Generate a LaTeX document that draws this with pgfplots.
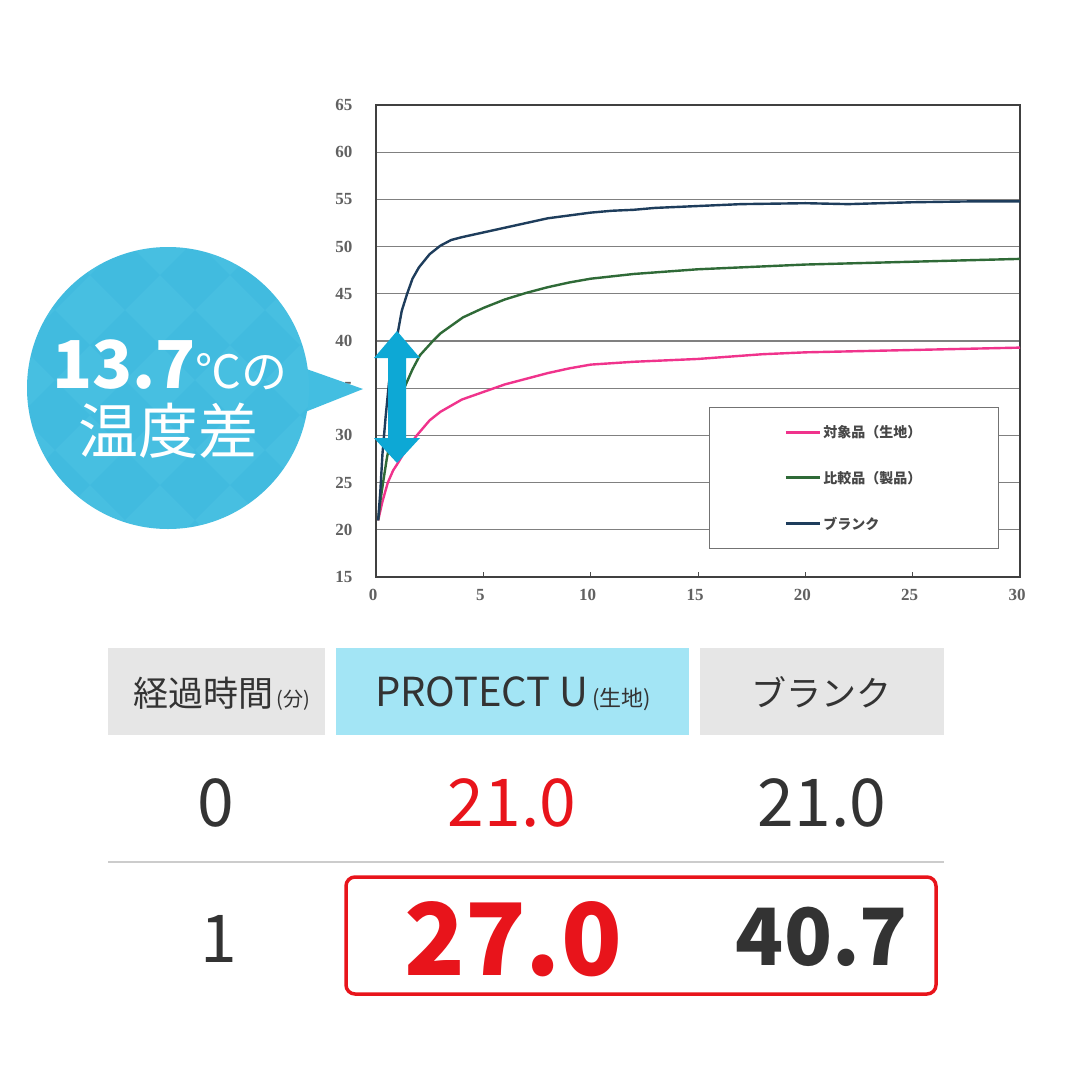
\documentclass[border=0pt]{standalone}
\usepackage{pgfplots}
\pgfplotsset{compat=1.18}
\usepackage{fontspec}
\setmainfont{Noto Sans CJK JP}
\newfontfamily\jp{Noto Sans CJK JP}
\newfontfamily\tickfont{Liberation Serif}
\definecolor{pinkline}{HTML}{F0338C}
\definecolor{greenline}{HTML}{2F6A37}
\definecolor{navyline}{HTML}{1E3D5C}
\definecolor{bubble}{HTML}{43BEE1}
\definecolor{arrowblue}{HTML}{0DA8D5}
\definecolor{cellgray}{HTML}{E6E6E6}
\definecolor{cellblue}{HTML}{A3E5F5}
\definecolor{txt}{HTML}{333333}
\definecolor{hired}{HTML}{E8141B}
\begin{document}
\begin{tikzpicture}[x=1pt,y=-1pt]
\fill[white] (0,0) rectangle (1080,1080);
\begin{axis}[
  at={(376pt,-577pt)}, anchor=south west,
  scale only axis, width=644pt, height=472pt,
  xmin=0, xmax=30, ymin=15, ymax=65,
  xtick={0,5,...,30}, ytick={15,20,...,65},
  ymajorgrids, major grid style={draw=black!50, line width=1.3pt},
  axis line style={draw=black!75, line width=1.4pt},
  tick align=inside, xtick pos=bottom, ytick pos=left,
  major tick length=5pt,
  ytick style={draw=none},
  xtick style={draw=black!70, line width=0.8pt},
  tick label style={font=\tickfont\bfseries\fontsize{17}{17}\selectfont, text=black!62},
  /pgf/number format/assume math mode=true,
  yticklabel style={xshift=-20pt},
  xticklabel style={yshift=-9pt, xshift=-3pt},
  legend style={at={(axis description cs:0.517,0.360)}, anchor=north west,
    draw=black!55, line width=1pt, fill=white, inner xsep=75pt, inner ysep=16pt, row sep=28pt,
    font=\jp\bfseries\fontsize{14}{14}\selectfont, text=black!72,
    cells={anchor=west}},
  legend image code/.code={\draw[#1, line width=3pt] (0pt,0pt) -- (34pt,0pt);},
]
\addplot[pinkline, line width=2.4pt] coordinates {
 (0.1,21.0) (0.3,23.0) (0.55,25.0) (0.8,26.3) (1.0,27.0) (1.4,28.5)
 (1.9,30.0) (2.5,31.6) (3.0,32.5) (4.0,33.8) (5.0,34.6) (6.0,35.4)
 (7.0,36.0) (8.0,36.6) (9.0,37.1) (10,37.5) (12,37.8) (15,38.1)
 (18,38.6) (20,38.8) (22,38.9) (25,39.05) (28,39.2) (30,39.3)
};
\addlegendentry{対象品（生地）}
\addplot[greenline, line width=2.4pt] coordinates {
 (0.1,21.0) (0.2,23.0) (0.33,25.0) (0.5,27.5) (0.75,30.5) (1.0,33.0)
 (1.35,35.2) (1.7,37.0) (2.05,38.5) (2.65,40.0) (3.0,40.8) (4.05,42.5)
 (5,43.5) (6,44.4) (7,45.1) (8,45.7) (9,46.2) (10,46.6) (12,47.1)
 (15,47.6) (18,47.9) (20,48.1) (25,48.4) (30,48.7)
};
\addlegendentry{比較品（製品）}
\addplot[navyline, line width=2.4pt] coordinates {
 (0.1,21.0) (0.2,24.0) (0.3,28.0) (0.45,32.0) (0.6,35.5) (0.8,38.5)
 (1.0,40.7) (1.2,43.2) (1.45,45.0) (1.7,46.6) (2.0,47.8) (2.5,49.2)
 (3.0,50.1) (3.5,50.7) (4.0,51.0) (5.0,51.5) (6.0,52.0) (7.0,52.5)
 (8.0,53.0) (9.0,53.3) (10,53.6) (11,53.8) (12,53.9) (13,54.1)
 (15,54.3) (17,54.5) (20,54.6) (22,54.5) (25,54.7) (28,54.8) (30,54.8)
};
\addlegendentry{ブランク}
\end{axis}
% double arrow
\fill[arrowblue] (397,331) -- (420,358) -- (406,358) -- (406,438) -- (420,438)
  -- (397,463) -- (374,438) -- (388,438) -- (388,358) -- (374,358) -- cycle;
% speech bubble with faint diamond facets
\fill[bubble] (298,366) -- (363,389) -- (300,414) -- cycle;
\begin{scope}
  \clip (168,388) circle[radius=141pt];
  \fill[bubble] (0,230) rectangle (340,550);
  \foreach \i in {0,...,5} {
    \foreach \j in {0,...,5} {
      \pgfmathsetmacro{\cx}{20+\i*70}
      \pgfmathsetmacro{\cy}{240+\j*70}
      \fill[white, opacity=0.025] (\cx,\cy-35) -- (\cx+35,\cy) -- (\cx,\cy+35) -- (\cx-35,\cy) -- cycle;
      \fill[black!40!blue, opacity=0.015] (\cx+35,\cy) -- (\cx+70,\cy+35) -- (\cx+35,\cy+70) -- (\cx,\cy+35) -- cycle;
    }
  }
\end{scope}
\node[white, anchor=base, inner sep=0pt] at (170,388)
  {\jp\bfseries\fontsize{66}{66}\selectfont 13.7\mdseries\fontsize{46}{46}\selectfont ℃の};
\node[white, anchor=base, inner sep=0pt] at (168,453)
  {\jp\fontsize{60}{60}\selectfont 温度差};
% table header
\fill[cellgray] (108,648) rectangle (325,735);
\fill[cellblue] (336,648) rectangle (689,735);
\fill[cellgray] (700,648) rectangle (944,735);
\node[txt, anchor=base, inner sep=0pt] at (222,706)
  {\jp\fontsize{35}{35}\selectfont 経過時間\fontsize{20}{20}\selectfont\,(分)};
\node[txt, anchor=base, inner sep=0pt] at (513,706)
  {\jp\fontsize{40}{40}\selectfont PROTECT U\fontsize{22}{22}\selectfont\,(生地)};
\node[txt, anchor=base, inner sep=0pt] at (821,706)
  {\jp\fontsize{35}{35}\selectfont ブランク};
% row 0
\node[txt, anchor=base, inner sep=0pt] at (216,826) {\jp\fontsize{66}{66}\selectfont 0};
\node[hired, anchor=base, inner sep=0pt] at (512,826) {\jp\fontsize{66}{66}\selectfont 21.0};
\node[txt, anchor=base, inner sep=0pt] at (822,826) {\jp\fontsize{66}{66}\selectfont 21.0};
\draw[black!20, line width=2pt] (108,862) -- (944,862);
% row 1
\draw[hired, line width=3.5pt, rounded corners=9pt] (346,877) rectangle (936,994);
\node[txt, anchor=base, inner sep=0pt] at (219,962) {\jp\fontsize{66}{66}\selectfont 1};
\node[hired, anchor=base, inner sep=0pt] at (513,975) {\jp\bfseries\fontsize{100}{100}\selectfont 27.0};
\node[txt, anchor=base, inner sep=0pt] at (822,965) {\jp\bfseries\fontsize{79}{79}\selectfont 40.7};
\end{tikzpicture}
\end{document}
